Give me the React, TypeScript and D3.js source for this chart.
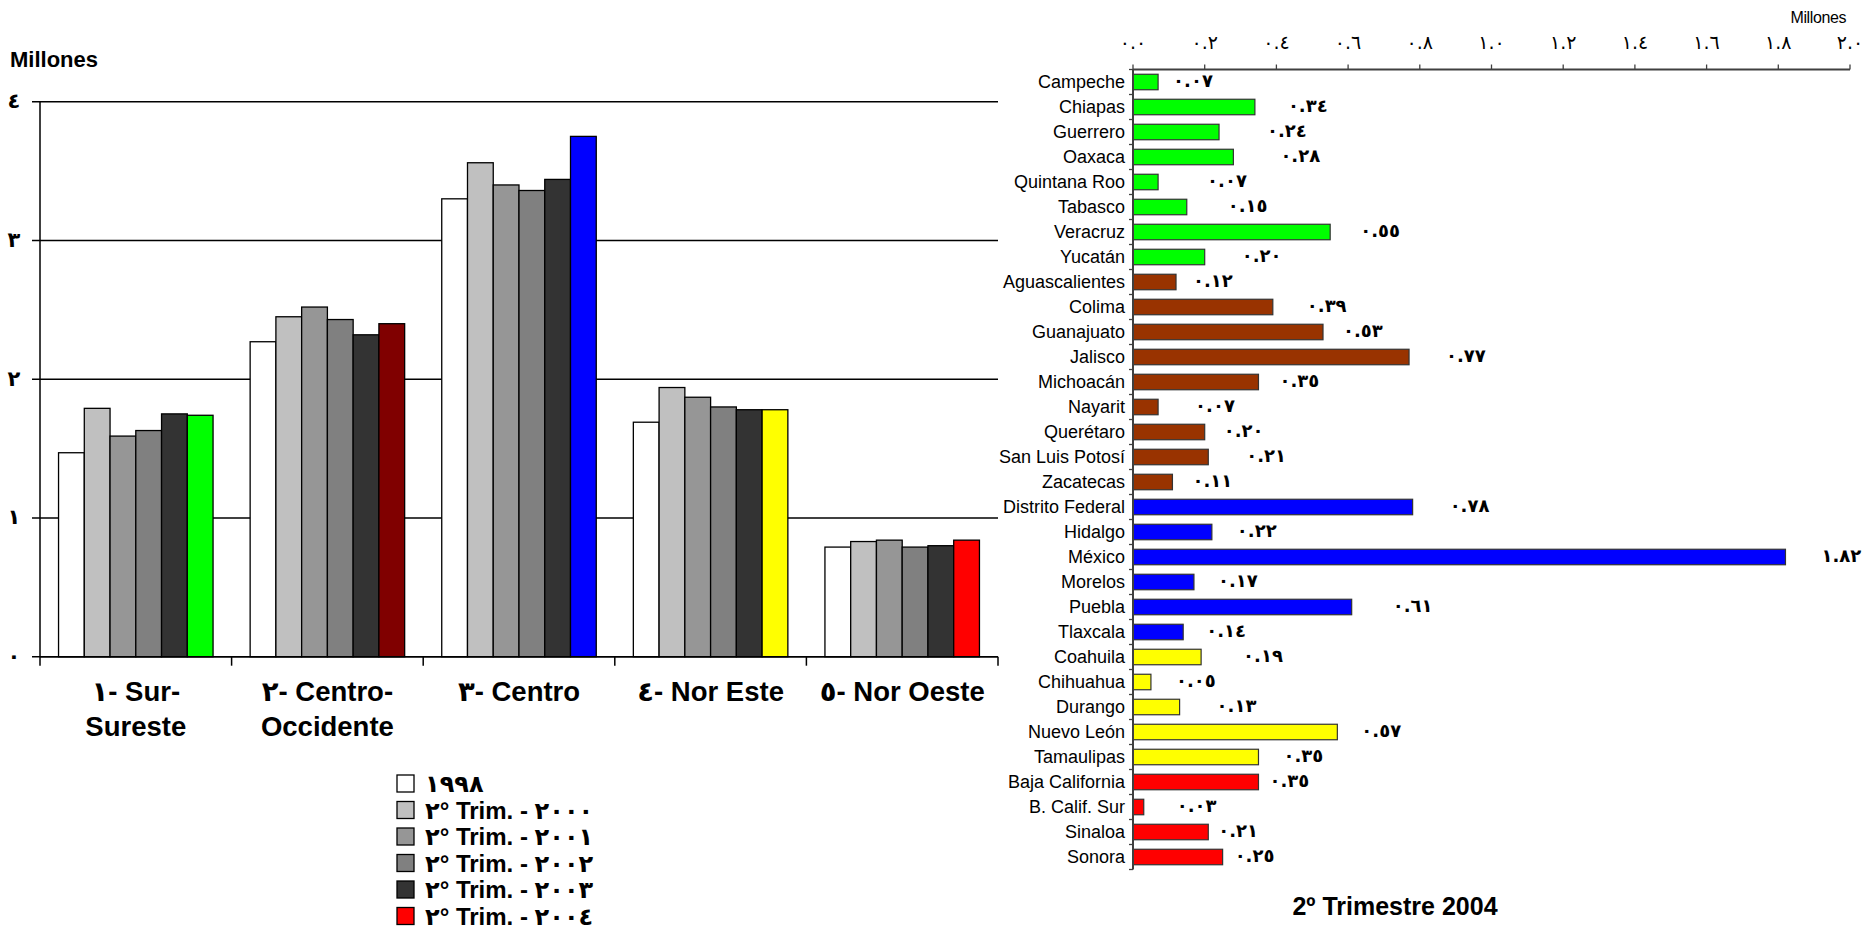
import React from "react";
import * as d3 from "d3";

// ---------- Left chart data (millones) ----------
const regions = ["1", "2", "3", "4", "5"];
const regionLine1 = ["١- Sur-", "٢- Centro-", "٣- Centro", "٤- Nor Este", "٥- Nor Oeste"];
const regionLine2 = ["Sureste", "Occidente", "", "", ""];
const seriesKeys = ["1998", "2000", "2001", "2002", "2003", "2004"];
const legendPrefix = ["", "٢° Trim. - ", "٢° Trim. - ", "٢° Trim. - ", "٢° Trim. - ", "٢° Trim. - "];
const legendYears = ["١٩٩٨", "٢٠٠٠", "٢٠٠١", "٢٠٠٢", "٢٠٠٣", "٢٠٠٤"];
const s1998 = [1.47, 2.27, 3.30, 1.69, 0.79];
const s2000 = [1.79, 2.45, 3.56, 1.94, 0.83];
const s2001 = [1.59, 2.52, 3.40, 1.87, 0.84];
const s2002 = [1.63, 2.43, 3.36, 1.80, 0.79];
const s2003 = [1.75, 2.32, 3.44, 1.78, 0.80];
const s2004 = [1.74, 2.40, 3.75, 1.78, 0.84];
const leftTicks = [0, 1, 2, 3, 4];

// ---------- Right chart data (millones, 2º Trimestre 2004) ----------
const states = [
  "Campeche", "Chiapas", "Guerrero", "Oaxaca", "Quintana Roo", "Tabasco", "Veracruz", "Yucatán",
  "Aguascalientes", "Colima", "Guanajuato", "Jalisco", "Michoacán", "Nayarit", "Querétaro", "San Luis Potosí", "Zacatecas",
  "Distrito Federal", "Hidalgo", "México", "Morelos", "Puebla", "Tlaxcala",
  "Coahuila", "Chihuahua", "Durango", "Nuevo León", "Tamaulipas",
  "Baja California", "B. Calif. Sur", "Sinaloa", "Sonora",
];
const stateValues = [
  0.07, 0.34, 0.24, 0.28, 0.07, 0.15, 0.55, 0.20,
  0.12, 0.39, 0.53, 0.77, 0.35, 0.07, 0.20, 0.21, 0.11,
  0.78, 0.22, 1.82, 0.17, 0.61, 0.14,
  0.19, 0.05, 0.13, 0.57, 0.35,
  0.35, 0.03, 0.21, 0.25,
];
const stateRegion = [
  0, 0, 0, 0, 0, 0, 0, 0,
  1, 1, 1, 1, 1, 1, 1, 1, 1,
  2, 2, 2, 2, 2, 2,
  3, 3, 3, 3, 3,
  4, 4, 4, 4,
];
const rightTicks = [0, 0.2, 0.4, 0.6, 0.8, 1.0, 1.2, 1.4, 1.6, 1.8, 2.0];
// horizontal nudge (px) of each value label, as placed in the original
const labelGap = [
  15, 33, 48, 47, 49, 41, 30, 37,
  17, 34, 20, 37, 21, 37, 19, 38, 20,
  37, 25, 36, 24, 41, 23,
  42, 25, 37, 24, 25,
  11, 33, 10, 12,
];

// ---------- styles ----------
const greyFills = ["#FFFFFF", "#C0C0C0", "#969696", "#808080", "#333333"];
const regionHighlight = ["#00FF00", "#800000", "#0000FF", "#FFFF00", "#FF0000"];
const stateFill = ["#00FF00", "#993300", "#0000FF", "#FFFF00", "#FF0000"];
const FONT = "'Liberation Sans', Arial, 'DejaVu Sans', sans-serif";
const NUMFONT = "'DejaVu Sans', sans-serif";

const arLocale = d3.formatLocale({
  decimal: ".",
  thousands: ",",
  grouping: [3],
  currency: ["", ""],
  numerals: ["٠", "١", "٢", "٣", "٤", "٥", "٦", "٧", "٨", "٩"],
});
const fmtInt = arLocale.format("d");
const fmt1 = arLocale.format(".1f");
const fmt2 = arLocale.format(".2f");

export default function App() {
  React.useEffect(() => {
    document.body.style.overflow = "hidden";
  }, []);

  const allSeries = [s1998, s2000, s2001, s2002, s2003, s2004];

  // Left chart scales
  const x0 = d3.scaleBand<string>().domain(regions).range([40, 998]).paddingInner(0).paddingOuter(0);
  const x1 = d3.scaleBand<string>().domain(seriesKeys).range([0, x0.bandwidth()]).paddingInner(0).paddingOuter(0.72);
  const yL = d3.scaleLinear().domain([0, 4]).range([656.7, 101.7]);

  // Right chart scales
  const xR = d3.scaleLinear().domain([0, 2]).range([1133, 1850]);
  const yR = d3.scaleBand<string>().domain(states).range([69.5, 869.5]).paddingInner(0.38).paddingOuter(0.19);
  const stepR = yR.step();
  const yR0 = yR.range()[0];

  return (
    <svg
      width={1869}
      height={930}
      style={{ position: "absolute", left: 0, top: 0, background: "#fff" }}
      fontFamily={FONT}
    >
      <rect x={0} y={0} width={1869} height={930} fill="#fff" />

      {/* ================= LEFT CHART ================= */}
      <text x={10} y={66.7} fontSize={22} fontWeight="bold" fill="#000">Millones</text>

      {/* gridlines + y ticks */}
      {leftTicks.map((t) => (
        <g key={"lt" + t}>
          <line x1={32} x2={998} y1={yL(t)} y2={yL(t)} stroke="#000" strokeWidth={1.5} />
          <text x={14} y={yL(t)} dy="0.3em" textAnchor="middle" fontFamily={NUMFONT} fontSize={21} fontWeight="bold" fill="#000">
            {fmtInt(t)}
          </text>
        </g>
      ))}

      {/* bars */}
      {regions.map((r, ri) => (
        <g key={"rg" + r} transform={`translate(${x0(r)},0)`}>
          {seriesKeys.map((k, si) => {
            const v = allSeries[si][ri];
            const fill = si < 5 ? greyFills[si] : regionHighlight[ri];
            return (
              <rect
                key={k}
                x={x1(k)}
                y={yL(v)}
                width={x1.bandwidth()}
                height={yL(0) - yL(v)}
                fill={fill}
                stroke="#000"
                strokeWidth={1.3}
              />
            );
          })}
        </g>
      ))}

      {/* axes */}
      <line x1={40} x2={40} y1={yL(4)} y2={yL(0) + 9} stroke="#000" strokeWidth={1.5} />
      <line x1={40} x2={998} y1={yL(0)} y2={yL(0)} stroke="#000" strokeWidth={1.5} />
      {regions.map((r) => (
        <line key={"xt" + r} x1={(x0(r) as number) + x0.bandwidth()} x2={(x0(r) as number) + x0.bandwidth()} y1={yL(0)} y2={yL(0) + 9} stroke="#000" strokeWidth={1.5} />
      ))}

      {/* category labels */}
      {regions.map((r, ri) => {
        const cx = (x0(r) as number) + x0.bandwidth() / 2;
        return (
          <g key={"cl" + r}>
            <text x={cx} y={701} textAnchor="middle" fontSize={27.5} fontWeight="bold" fill="#000">
              {regionLine1[ri]}
            </text>
            {regionLine2[ri] && (
              <text x={cx} y={736} textAnchor="middle" fontSize={27.5} fontWeight="bold" fill="#000">
                {regionLine2[ri]}
              </text>
            )}
          </g>
        );
      })}

      {/* legend */}
      {legendYears.map((yr, i) => {
        const top = 775 + i * 26.5;
        const fill = i < 5 ? greyFills[i] : regionHighlight[4];
        return (
          <g key={"lg" + i}>
            <rect x={397} y={top} width={17} height={17} fill={fill} stroke="#000" strokeWidth={1.3} />
            <text x={425} y={top + 8.5} dy="0.36em" fontSize={24} fontWeight="bold" fill="#000">
              {legendPrefix[i]}
              <tspan fontFamily={NUMFONT} letterSpacing={3}>{yr}</tspan>
            </text>
          </g>
        );
      })}

      {/* ================= RIGHT CHART ================= */}
      <text x={1846} y={23} textAnchor="end" fontSize={16} fill="#000" letterSpacing={-0.4}>Millones</text>

      {/* top axis */}
      <line x1={xR(0)} x2={xR(2)} y1={yR0} y2={yR0} stroke="#404040" strokeWidth={2} />
      {rightTicks.map((t) => (
        <g key={"rt" + t}>
          <line x1={xR(t)} x2={xR(t)} y1={yR0} y2={yR0 - 5} stroke="#404040" strokeWidth={1.3} />
          <text x={xR(t)} y={43} dy="0.3em" textAnchor="middle" fontFamily={NUMFONT} fontSize={19} letterSpacing={1.5} fill="#000">
            {fmt1(t)}
          </text>
        </g>
      ))}

      {/* bars */}
      {states.map((s, i) => (
        <rect
          key={"sb" + s}
          x={xR(0)}
          y={yR(s)}
          width={xR(stateValues[i]) - xR(0)}
          height={yR.bandwidth()}
          fill={stateFill[stateRegion[i]]}
          stroke="#333"
          strokeWidth={1.2}
        />
      ))}

      {/* left axis of right chart */}
      <line x1={xR(0)} x2={xR(0)} y1={yR0} y2={yR.range()[1]} stroke="#404040" strokeWidth={2} />
      {d3.range(states.length + 1).map((i) => (
        <line key={"yt" + i} x1={xR(0) - 4} x2={xR(0)} y1={yR0 + i * stepR} y2={yR0 + i * stepR} stroke="#404040" strokeWidth={1.3} />
      ))}

      {/* state names */}
      {states.map((s) => (
        <text key={"sn" + s} x={1125} y={(yR(s) as number) + yR.bandwidth() / 2} dy="0.35em" textAnchor="end" fontSize={18} fill="#000">
          {s}
        </text>
      ))}

      {/* value labels */}
      {states.map((s, i) => (
        <text
          key={"sv" + s}
          x={xR(stateValues[i]) + labelGap[i]}
          y={(yR(s) as number) + yR.bandwidth() / 2}
          dy="0.3em"
          fontFamily={NUMFONT}
          fontSize={18}
          fontWeight="bold"
          letterSpacing={1}
          fill="#000"
        >
          {fmt2(stateValues[i])}
        </text>
      ))}

      <text x={1395} y={915} textAnchor="middle" fontSize={25} fontWeight="bold" fill="#000">
        2º Trimestre 2004
      </text>
    </svg>
  );
}
